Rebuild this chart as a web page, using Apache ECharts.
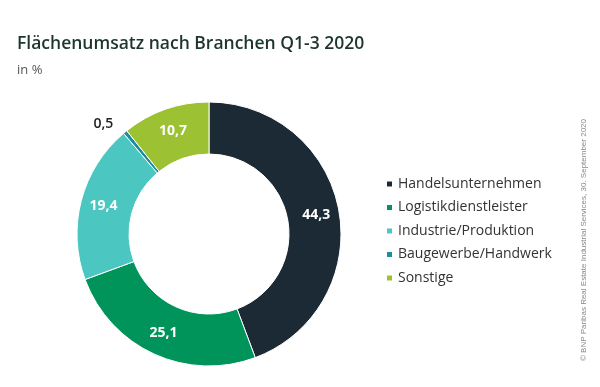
<!DOCTYPE html>
<html>
<head>
<meta charset="utf-8">
<script src="https://cdn.jsdelivr.net/npm/echarts@6/dist/echarts.min.js"></script>
<style>html,body{margin:0;padding:0;background:#fff;}#c{width:600px;height:387px;}</style>
</head>
<body>
<div id="c"></div>
<script>
const categories = ['Handelsunternehmen', 'Logistikdienstleister', 'Industrie/Produktion', 'Baugewerbe/Handwerk', 'Sonstige'];
const values = [44.3, 25.1, 19.4, 0.5, 10.7];
const colors = ['#1b2a35', '#00935a', '#4cc6c0', '#1a8f9c', '#9cc233'];
const outsideLabel = [false, false, false, true, false];

const chart = echarts.init(document.getElementById('c'), null, {renderer: 'canvas'});
const fmt = v => v.toFixed(1).replace('.', ',');
const data = categories.map((name, i) => {
  const d = {name: name, value: values[i], itemStyle: {color: colors[i]}};
  if (outsideLabel[i]) {
    d.label = {position: 'outside', color: '#222', fontWeight: 600, fontSize: 14, padding: [0, 0, 10, 0]};
    d.labelLine = {show: false, length: 11, length2: 0};
  }
  return d;
});
chart.setOption({
  animation: false,
  title: [{
    text: 'Flächenumsatz nach Branchen Q1-3 2020',
    left: 12, top: 30,
    textStyle: {fontFamily: 'Open Sans', fontSize: 17.5, fontWeight: 600, color: '#1d362c'}
  }, {
    text: 'in %',
    left: 12, top: 59,
    textStyle: {fontFamily: 'Open Sans', fontSize: 13, fontWeight: 'normal', color: '#555'}
  }],
  legend: {
    orient: 'vertical',
    left: 380, top: 172,
    itemWidth: 7, itemHeight: 7, itemGap: 9.5,
    icon: 'rect',
    data: categories,
    textStyle: {fontFamily: 'Open Sans', fontSize: 14, color: '#333'}
  },
  graphic: [{
    type: 'text',
    x: 584, y: 240,
    rotation: Math.PI / 2,
    style: {
      text: '© BNP Paribas Real Estate Industrial Services, 30. September 2020',
      fontFamily: 'Liberation Sans', fontSize: 8, fill: '#888',
      align: 'center', verticalAlign: 'middle'
    }
  }],
  series: [{
    type: 'pie',
    center: [209, 234],
    radius: [80, 132],
    startAngle: 90,
    clockwise: true,
    avoidLabelOverlap: false,
    itemStyle: {borderColor: '#fff', borderWidth: 1},
    label: {
      show: true, position: 'inside',
      formatter: p => fmt(p.value),
      color: '#fff', fontFamily: 'Open Sans', fontWeight: 'bold', fontSize: 14
    },
    labelLine: {show: false},
    data: data
  }]
});
</script>
</body>
</html>
